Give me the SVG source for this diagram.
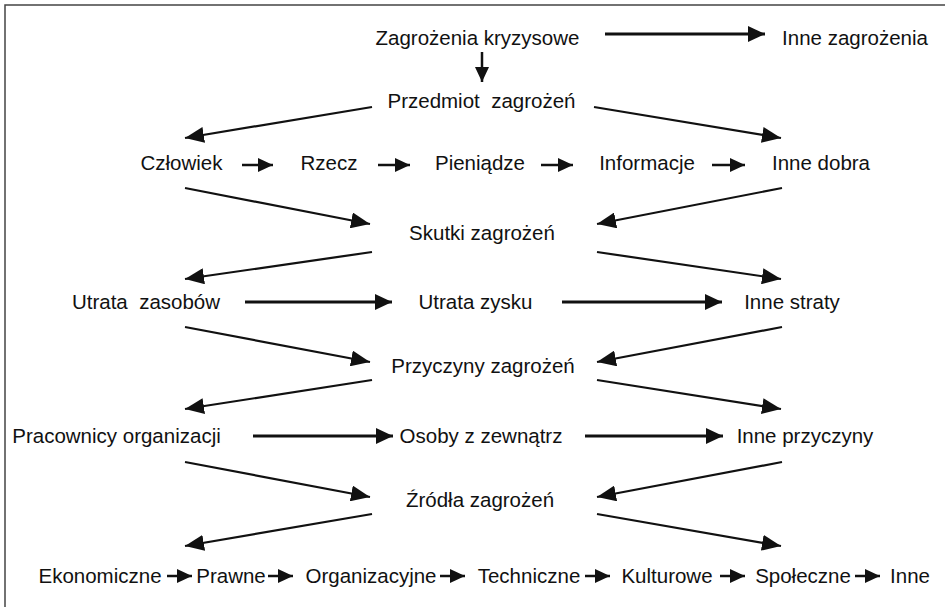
<svg xmlns="http://www.w3.org/2000/svg" width="945" height="607" viewBox="0 0 945 607">
<defs>
<style>
text{font-family:"Liberation Sans",Arial,sans-serif;font-size:20.5px;fill:#111;text-anchor:middle;white-space:pre}
.c{stroke:#111;fill:none}
.h{stroke-width:3;marker-end:url(#ah)}
.d{stroke-width:2.2;marker-end:url(#ad)}
.s{stroke-width:2.5;marker-end:url(#as)}
</style>
<marker id="ah" markerUnits="userSpaceOnUse" markerWidth="18" markerHeight="16" refX="17" refY="8" orient="auto"><path d="M0,0 L17,8 L0,16 z" fill="#111"/></marker>
<marker id="ad" markerUnits="userSpaceOnUse" markerWidth="20" markerHeight="16" refX="19" refY="8" orient="auto"><path d="M0,0 L19,8 L0,16 z" fill="#111"/></marker>
<marker id="as" markerUnits="userSpaceOnUse" markerWidth="16" markerHeight="14" refX="15" refY="7" orient="auto"><path d="M0,0 L15,7 L0,14 z" fill="#111"/></marker>
</defs>
<rect x="0" y="0" width="945" height="607" fill="#fff"/>
<rect x="5" y="5" width="960" height="620" fill="none" stroke="#444" stroke-width="1.5"/>
<g id="connectors">
<line class="c h" x1="605" y1="34" x2="765" y2="34"/>
<line class="c s" x1="482" y1="52" x2="482" y2="82"/>
<line class="c d" x1="372" y1="107" x2="185" y2="138"/>
<line class="c d" x1="594" y1="107" x2="781" y2="138"/>
<line class="c s" x1="242" y1="165" x2="273" y2="165"/>
<line class="c s" x1="378" y1="165" x2="410" y2="165"/>
<line class="c s" x1="541" y1="165" x2="573" y2="165"/>
<line class="c s" x1="712" y1="165" x2="745" y2="165"/>
<line class="c d" x1="185" y1="188" x2="370" y2="224"/>
<line class="c d" x1="782" y1="188" x2="597" y2="224"/>
<line class="c d" x1="372" y1="252" x2="185" y2="279"/>
<line class="c d" x1="597" y1="252" x2="781" y2="279"/>
<line class="c h" x1="245" y1="302" x2="392" y2="302"/>
<line class="c h" x1="562" y1="302" x2="722" y2="302"/>
<line class="c d" x1="185" y1="327" x2="370" y2="362"/>
<line class="c d" x1="782" y1="327" x2="597" y2="362"/>
<line class="c d" x1="372" y1="380" x2="185" y2="409"/>
<line class="c d" x1="597" y1="380" x2="781" y2="409"/>
<line class="c h" x1="253" y1="436" x2="393" y2="436"/>
<line class="c h" x1="585" y1="436" x2="723" y2="436"/>
<line class="c d" x1="185" y1="462" x2="370" y2="497"/>
<line class="c d" x1="782" y1="462" x2="597" y2="497"/>
<line class="c d" x1="372" y1="514" x2="185" y2="546"/>
<line class="c d" x1="597" y1="514" x2="781" y2="546"/>
<line class="c s" x1="167" y1="576" x2="192" y2="576"/>
<line class="c s" x1="268" y1="576" x2="293" y2="576"/>
<line class="c s" x1="440" y1="576" x2="465" y2="576"/>
<line class="c s" x1="585" y1="576" x2="610" y2="576"/>
<line class="c s" x1="720" y1="576" x2="745" y2="576"/>
<line class="c s" x1="855" y1="576" x2="880" y2="576"/>
</g>
<g id="n-zagrozenia-kryzysowe"><text x="477.5" y="45">Zagrożenia kryzysowe</text></g>
<g id="n-inne-zagrozenia"><text x="855" y="45">Inne zagrożenia</text></g>
<g id="n-przedmiot"><text x="481.5" y="108">Przedmiot  zagrożeń</text></g>
<g id="n-czlowiek"><text x="181.5" y="170">Człowiek</text></g>
<g id="n-rzecz"><text x="329" y="170">Rzecz</text></g>
<g id="n-pieniadze"><text x="480" y="170">Pieniądze</text></g>
<g id="n-informacje"><text x="647" y="170">Informacje</text></g>
<g id="n-inne-dobra"><text x="821" y="170">Inne dobra</text></g>
<g id="n-skutki"><text x="482" y="240">Skutki zagrożeń</text></g>
<g id="n-utrata-zasobow"><text x="146" y="309">Utrata  zasobów</text></g>
<g id="n-utrata-zysku"><text x="475.5" y="309">Utrata zysku</text></g>
<g id="n-inne-straty"><text x="792" y="309">Inne straty</text></g>
<g id="n-przyczyny"><text x="483" y="373">Przyczyny zagrożeń</text></g>
<g id="n-pracownicy"><text x="116.5" y="443">Pracownicy organizacji</text></g>
<g id="n-osoby"><text x="481" y="443">Osoby z zewnątrz</text></g>
<g id="n-inne-przyczyny"><text x="805" y="443">Inne przyczyny</text></g>
<g id="n-zrodla"><text x="480" y="507">Źródła zagrożeń</text></g>
<g id="n-ekonomiczne"><text x="100" y="583">Ekonomiczne</text></g>
<g id="n-prawne"><text x="231" y="583">Prawne</text></g>
<g id="n-organizacyjne"><text x="371" y="583">Organizacyjne</text></g>
<g id="n-techniczne"><text x="529" y="583">Techniczne</text></g>
<g id="n-kulturowe"><text x="667" y="583">Kulturowe</text></g>
<g id="n-spoleczne"><text x="803" y="583">Społeczne</text></g>
<g id="n-inne"><text x="910" y="583">Inne</text></g>
</svg>
